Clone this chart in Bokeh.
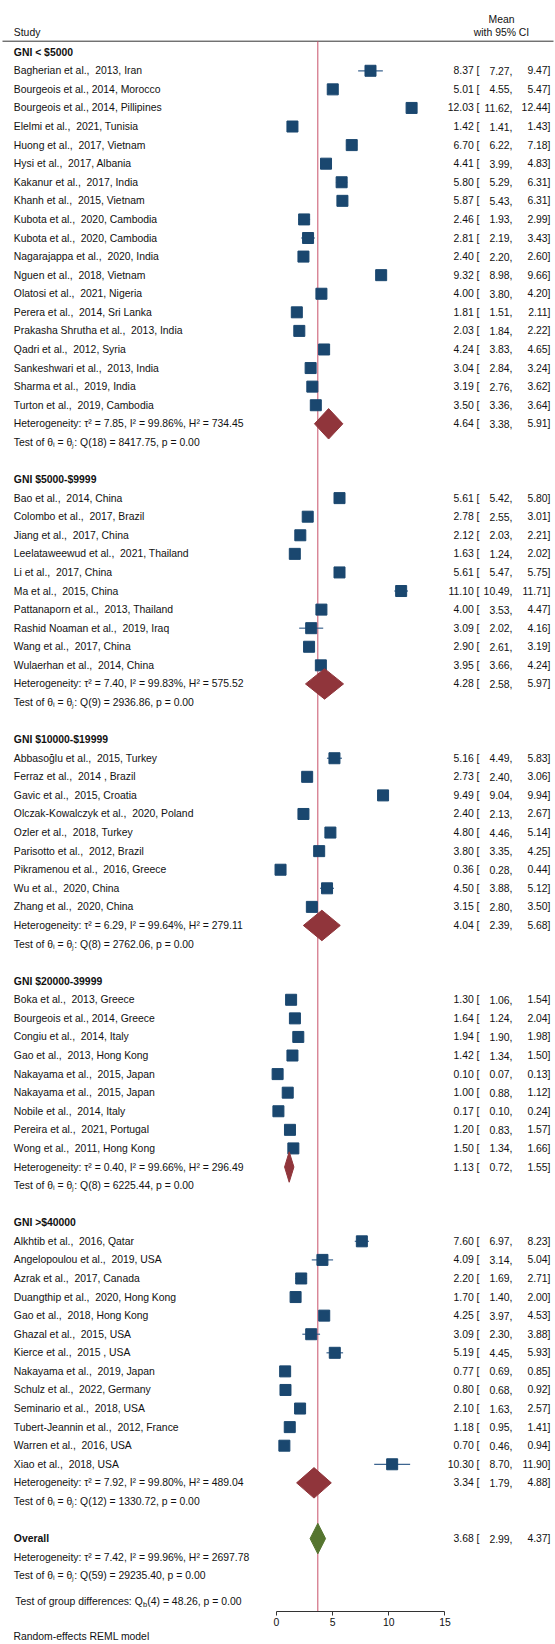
from bokeh.plotting import figure
from bokeh.models import Range1d, FixedTicker, Title, ColumnDataSource
from bokeh.embed import file_html
from bokeh.resources import INLINE
from bokeh.core.properties import value

# ---------------- data ----------------
g1_name = "GNI < $5000"
g1_study = ["Bagherian et al.,  2013, Iran", "Bourgeois et al., 2014, Morocco",
            "Bourgeois et al., 2014, Pillipines", "Elelmi et al.,  2021, Tunisia",
            "Huong et al.,  2017, Vietnam", "Hysi et al.,  2017, Albania",
            "Kakanur et al.,  2017, India", "Khanh et al.,  2015, Vietnam",
            "Kubota et al.,  2020, Cambodia", "Kubota et al.,  2020, Cambodia",
            "Nagarajappa et al.,  2020, India", "Nguen et al.,  2018, Vietnam",
            "Olatosi et al.,  2021, Nigeria", "Perera et al.,  2014, Sri Lanka",
            "Prakasha Shrutha et al.,  2013, India", "Qadri et al.,  2012, Syria",
            "Sankeshwari et al.,  2013, India", "Sharma et al.,  2019, India",
            "Turton et al.,  2019, Cambodia"]
g1_est = [8.37, 5.01, 12.03, 1.42, 6.70, 4.41, 5.80, 5.87, 2.46, 2.81, 2.40, 9.32, 4.00, 1.81, 2.03, 4.24, 3.04, 3.19, 3.50]
g1_lo = [7.27, 4.55, 11.62, 1.41, 6.22, 3.99, 5.29, 5.43, 1.93, 2.19, 2.20, 8.98, 3.80, 1.51, 1.84, 3.83, 2.84, 2.76, 3.36]
g1_hi = [9.47, 5.47, 12.44, 1.43, 7.18, 4.83, 6.31, 6.31, 2.99, 3.43, 2.60, 9.66, 4.20, 2.11, 2.22, 4.65, 3.24, 3.62, 3.64]
g1_het = (7.85, 99.86, 734.45)
g1_pool = (4.64, 3.38, 5.91)
g1_q = (18, 8417.75, 0.00)

g2_name = "GNI $5000-$9999"
g2_study = ["Bao et al.,  2014, China", "Colombo et al.,  2017, Brazil", "Jiang et al.,  2017, China",
            "Leelataweewud et al.,  2021, Thailand", "Li et al.,  2017, China", "Ma et al.,  2015, China",
            "Pattanaporn et al.,  2013, Thailand", "Rashid Noaman et al.,  2019, Iraq",
            "Wang et al.,  2017, China", "Wulaerhan et al.,  2014, China"]
g2_est = [5.61, 2.78, 2.12, 1.63, 5.61, 11.10, 4.00, 3.09, 2.90, 3.95]
g2_lo = [5.42, 2.55, 2.03, 1.24, 5.47, 10.49, 3.53, 2.02, 2.61, 3.66]
g2_hi = [5.80, 3.01, 2.21, 2.02, 5.75, 11.71, 4.47, 4.16, 3.19, 4.24]
g2_het = (7.40, 99.83, 575.52)
g2_pool = (4.28, 2.58, 5.97)
g2_q = (9, 2936.86, 0.00)

g3_name = "GNI $10000-$19999"
g3_study = ["Abbasoğlu et al.,  2015, Turkey", "Ferraz et al.,  2014 , Brazil", "Gavic et al.,  2015, Croatia",
            "Olczak-Kowalczyk et al.,  2020, Poland", "Ozler et al.,  2018, Turkey",
            "Parisotto et al.,  2012, Brazil", "Pikramenou et al.,  2016, Greece",
            "Wu et al.,  2020, China", "Zhang et al.,  2020, China"]
g3_est = [5.16, 2.73, 9.49, 2.40, 4.80, 3.80, 0.36, 4.50, 3.15]
g3_lo = [4.49, 2.40, 9.04, 2.13, 4.46, 3.35, 0.28, 3.88, 2.80]
g3_hi = [5.83, 3.06, 9.94, 2.67, 5.14, 4.25, 0.44, 5.12, 3.50]
g3_het = (6.29, 99.64, 279.11)
g3_pool = (4.04, 2.39, 5.68)
g3_q = (8, 2762.06, 0.00)

g4_name = "GNI $20000-39999"
g4_study = ["Boka et al.,  2013, Greece", "Bourgeois et al., 2014, Greece", "Congiu et al.,  2014, Italy",
            "Gao et al.,  2013, Hong Kong", "Nakayama et al.,  2015, Japan", "Nakayama et al.,  2015, Japan",
            "Nobile et al.,  2014, Italy", "Pereira et al.,  2021, Portugal", "Wong et al.,  2011, Hong Kong"]
g4_est = [1.30, 1.64, 1.94, 1.42, 0.10, 1.00, 0.17, 1.20, 1.50]
g4_lo = [1.06, 1.24, 1.90, 1.34, 0.07, 0.88, 0.10, 0.83, 1.34]
g4_hi = [1.54, 2.04, 1.98, 1.50, 0.13, 1.12, 0.24, 1.57, 1.66]
g4_het = (0.40, 99.66, 296.49)
g4_pool = (1.13, 0.72, 1.55)
g4_q = (8, 6225.44, 0.00)

g5_name = "GNI >$40000"
g5_study = ["Alkhtib et al.,  2016, Qatar", "Angelopoulou et al.,  2019, USA", "Azrak et al.,  2017, Canada",
            "Duangthip et al.,  2020, Hong Kong", "Gao et al.,  2018, Hong Kong", "Ghazal et al.,  2015, USA",
            "Kierce et al.,  2015 , USA", "Nakayama et al.,  2019, Japan", "Schulz et al.,  2022, Germany",
            "Seminario et al.,  2018, USA", "Tubert-Jeannin et al.,  2012, France", "Warren et al.,  2016, USA",
            "Xiao et al.,  2018, USA"]
g5_est = [7.60, 4.09, 2.20, 1.70, 4.25, 3.09, 5.19, 0.77, 0.80, 2.10, 1.18, 0.70, 10.30]
g5_lo = [6.97, 3.14, 1.69, 1.40, 3.97, 2.30, 4.45, 0.69, 0.68, 1.63, 0.95, 0.46, 8.70]
g5_hi = [8.23, 5.04, 2.71, 2.00, 4.53, 3.88, 5.93, 0.85, 0.92, 2.57, 1.41, 0.94, 11.90]
g5_het = (7.92, 99.80, 489.04)
g5_pool = (3.34, 1.79, 4.88)
g5_q = (12, 1330.72, 0.00)

overall_pool = (3.68, 2.99, 4.37)
overall_het = (7.42, 99.96, 2697.78)
overall_q = (59, 29235.40, 0.00)
groupdiff = (4, 48.26, 0.00)

x_ticks = [0, 5, 10, 15]

# ---------------- layout constants ----------------
FONT = "Liberation Sans"
FSN = 10.4
FS = f"{FSN}px"
PX_PER_UNIT = 11.23
X0_PX = 276.0
ROW0_PX = 51.7
ROW_PX = 18.58
FRAME_W = 555
FRAME_H = 1611


def xp(px):
    return (px - X0_PX) / PX_PER_UNIT


def rp(px):
    return (px - ROW0_PX) / ROW_PX


def keep_spaces(s):
    return s.replace("  ", " \u00a0")


p = figure(frame_width=FRAME_W, frame_height=FRAME_H,
           x_range=Range1d(xp(0), xp(FRAME_W)),
           y_range=Range1d(rp(FRAME_H), rp(0)),
           output_backend="svg", toolbar_location=None, tools="",
           y_axis_location=None, x_axis_location="below")
p.min_border = 0
p.min_border_left = 0
p.min_border_right = 0
p.min_border_top = 0
p.min_border_bottom = 0
p.outline_line_color = None
p.xgrid.visible = False
p.ygrid.visible = False
p.background_fill_color = "white"
p.border_fill_color = "white"

LX_PX = 13.3
LX = xp(LX_PX)
COLA = xp(479)
COLB = xp(512)
COLC = xp(550)

norm = dict(x=[], y=[], t=[])
bold = dict(x=[], y=[], t=[])
ca = dict(x=[], y=[], t=[])
cb = dict(x=[], y=[], t=[])
cc = dict(x=[], y=[], t=[])
sq = dict(x=[], y=[])
ci = dict(x0=[], x1=[], y=[])
dia = dict(xs=[], ys=[])
DH = 0.82


def add_vals(r, est, lo, hi):
    ca["x"].append(COLA); ca["y"].append(r); ca["t"].append(f"{est:.2f} [")
    cb["x"].append(COLB); cb["y"].append(r); cb["t"].append(f"{lo:.2f},")
    cc["x"].append(COLC); cc["y"].append(r); cc["t"].append(f"{hi:.2f}]")


def het_text(h):
    return f"Heterogeneity: \u03c4\u00b2 = {h[0]:.2f}, I\u00b2 = {h[1]:.2f}%, H\u00b2 = {h[2]:.2f}"


def q_text(q):
    return f"Test of \u03b8\u1d62 = \u03b8\u2c7c: Q({q[0]}) = {q[1]:.2f}, p = {q[2]:.2f}"


groups = [
    (g1_name, g1_study, g1_est, g1_lo, g1_hi, g1_het, g1_pool, g1_q),
    (g2_name, g2_study, g2_est, g2_lo, g2_hi, g2_het, g2_pool, g2_q),
    (g3_name, g3_study, g3_est, g3_lo, g3_hi, g3_het, g3_pool, g3_q),
    (g4_name, g4_study, g4_est, g4_lo, g4_hi, g4_het, g4_pool, g4_q),
    (g5_name, g5_study, g5_est, g5_lo, g5_hi, g5_het, g5_pool, g5_q),
]

row = 0
for name, studies, est, lo, hi, het, pool, q in groups:
    bold["x"].append(LX); bold["y"].append(row); bold["t"].append(name)
    row += 1
    for s, e, l, h in zip(studies, est, lo, hi):
        norm["x"].append(LX); norm["y"].append(row); norm["t"].append(keep_spaces(s))
        sq["x"].append(e); sq["y"].append(row)
        ci["x0"].append(l); ci["x1"].append(h); ci["y"].append(row)
        add_vals(row, e, l, h)
        row += 1
    norm["x"].append(LX); norm["y"].append(row); norm["t"].append(het_text(het))
    dia["xs"].append([pool[1], pool[0], pool[2], pool[0]])
    dia["ys"].append([row, row - DH, row, row + DH])
    add_vals(row, *pool)
    row += 1
    norm["x"].append(LX); norm["y"].append(row); norm["t"].append(q_text(q))
    row += 2

overall_row = row
bold["x"].append(LX); bold["y"].append(overall_row); bold["t"].append("Overall")
add_vals(overall_row, *overall_pool)
norm["x"].append(LX); norm["y"].append(overall_row + 1); norm["t"].append(het_text(overall_het))
norm["x"].append(LX); norm["y"].append(overall_row + 2); norm["t"].append(q_text(overall_q))

# group-difference line with subscript b ("...: Q" ends at Q_END px)
gd_row = overall_row + 3.4
Q_END = LX_PX + 12.395 * FSN
right_txt = dict(x=[xp(Q_END)], y=[gd_row], t=["Test of group differences: Q"])
norm["x"].append(xp(Q_END + 4.6)); norm["y"].append(gd_row)
norm["t"].append(f"({groupdiff[0]}) = {groupdiff[1]:.2f}, p = {groupdiff[2]:.2f}")

# header
HDR_LINE = rp(40.7)
p.segment(x0=[xp(2)], y0=[HDR_LINE], x1=[xp(553)], y1=[HDR_LINE], line_color="#333333", line_width=1)
norm["x"].append(LX); norm["y"].append(rp(31.7)); norm["t"].append("Study")

# vertical overall line
p.segment(x0=[overall_pool[0]], y0=[HDR_LINE], x1=[overall_pool[0]], y1=[rp(FRAME_H)],
          line_color="#c8506a", line_width=1)

# CI whiskers and squares
p.segment(x0="x0", y0="y", x1="x1", y1="y", source=ColumnDataSource(ci),
          line_color="#3d6590", line_width=1.2)
p.scatter(x="x", y="y", source=ColumnDataSource(sq), marker="square", size=11,
          fill_color="#1a476f", line_color="#1a476f")

# diamonds
p.patches(xs="xs", ys="ys", source=ColumnDataSource(dia), fill_color="#90353b", line_color="#90353b")
p.patches(xs=[[overall_pool[1], overall_pool[0], overall_pool[2], overall_pool[0]]],
          ys=[[overall_row, overall_row - DH, overall_row, overall_row + DH]],
          fill_color="#55752f", line_color="#55752f")

common = dict(text_font=value(FONT), text_font_size=value(FS), text_color="#111111",
              text_baseline="middle")
p.text(x="x", y="y", text="t", source=ColumnDataSource(norm), text_align="left", **common)
p.text(x="x", y="y", text="t", source=ColumnDataSource(bold), text_align="left",
       text_font_style="bold", **common)
p.text(x="x", y="y", text="t", source=ColumnDataSource(right_txt), text_align="right", **common)
for src in (ca, cb, cc):
    p.text(x="x", y="y", text="t", source=ColumnDataSource(src), text_align="right", **common)

# subscript b
p.text(x=[xp(Q_END + 0.3)], y=[gd_row + 0.17], text=["b"], text_align="left",
       text_font=value(FONT), text_font_size=value("7.5px"), text_color="#111111",
       text_baseline="middle")

# column header
p.text(x=[xp(501)], y=[rp(18.5)], text=["Mean"], text_align="center", **common)
p.text(x=[xp(501)], y=[rp(31.7)], text=["with 95% CI"], text_align="center", **common)

# axis
ax = p.xaxis[0]
ax.ticker = FixedTicker(ticks=x_ticks)
ax.bounds = (0, 15)
ax.minor_tick_line_color = None
ax.major_tick_in = 0
ax.major_tick_out = 4
ax.major_label_standoff = 2
ax.axis_line_color = "#333333"
ax.major_tick_line_color = "#333333"
ax.major_label_text_font = FONT
ax.major_label_text_font_size = FS
ax.major_label_text_color = "#111111"

p.add_layout(Title(text="Random-effects REML model", align="left", offset=13,
                   text_font=FONT, text_font_size=FS, text_font_style="normal",
                   text_color="#111111", standoff=0), "below")

open("out.html", "w").write(file_html(p, INLINE))
